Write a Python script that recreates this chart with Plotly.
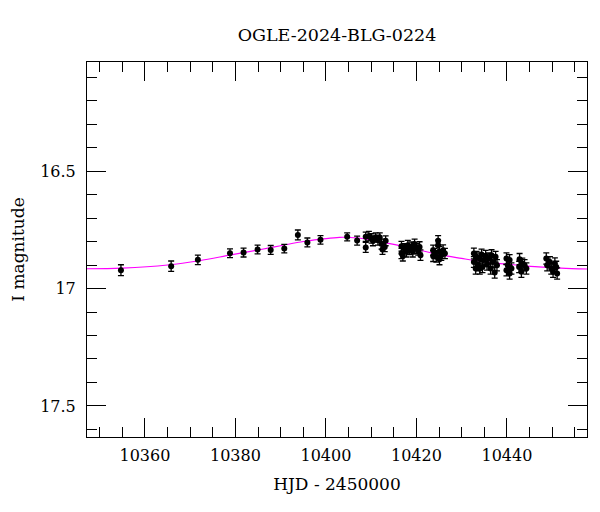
import plotly.graph_objects as go

# OGLE photometry (HJD - 2450000, I mag, error)
hjd = [10354.7, 10365.8, 10371.7, 10378.8, 10381.8, 10384.9, 10387.8, 10390.8,
       10393.8, 10395.9, 10398.8, 10404.7, 10406.9,
       10408.8, 10408.8, 10409.5, 10410.1, 10410.4, 10411.0, 10411.5, 10411.9,
       10412.3, 10412.5, 10413.0, 10413.2,
       10416.7, 10416.7, 10417.0, 10417.4, 10417.8, 10418.1, 10418.5, 10418.9,
       10419.2, 10419.6, 10420.0, 10420.4, 10420.7, 10420.9,
       10423.7, 10423.7, 10424.0, 10424.4, 10424.8, 10424.8, 10425.1, 10425.1,
       10425.5, 10425.9, 10426.3,
       10432.7, 10432.7, 10433.1, 10433.3, 10433.6, 10434.0, 10434.0, 10434.4,
       10434.6, 10434.9, 10435.3, 10435.6, 10436.0, 10436.4, 10436.6, 10436.9,
       10437.3, 10437.5, 10437.8,
       10439.9, 10439.9, 10440.2, 10440.6, 10440.6, 10441.0,
       10442.7, 10442.8, 10443.2, 10443.4, 10443.9, 10444.3,
       10448.7, 10448.9, 10449.5, 10449.8, 10450.2, 10450.6, 10450.9, 10451.1]
mag = [16.922, 16.905, 16.878, 16.850, 16.847, 16.834, 16.836, 16.830,
       16.772, 16.804, 16.793, 16.780, 16.796,
       16.780, 16.825, 16.777, 16.787, 16.797, 16.783, 16.794, 16.783,
       16.811, 16.834, 16.823, 16.797,
       16.820, 16.851, 16.862, 16.830, 16.844, 16.816, 16.834, 16.823,
       16.844, 16.811, 16.830, 16.837, 16.823, 16.858,
       16.837, 16.862, 16.851, 16.865, 16.797, 16.816, 16.844, 16.876,
       16.858, 16.837, 16.851,
       16.851, 16.887, 16.915, 16.865, 16.901, 16.872, 16.915, 16.855,
       16.908, 16.879, 16.861, 16.898, 16.872, 16.915, 16.858, 16.887,
       16.932, 16.865, 16.901,
       16.872, 16.922, 16.901, 16.879, 16.936, 16.915,
       16.908, 16.875, 16.929, 16.894, 16.901, 16.915,
       16.872, 16.901, 16.887, 16.915, 16.929, 16.894, 16.908, 16.936]
err = [0.023, 0.022, 0.020, 0.019, 0.019, 0.019, 0.019, 0.018,
       0.021, 0.019, 0.018, 0.017, 0.019,
       0.020, 0.021, 0.020, 0.020, 0.021, 0.020, 0.021, 0.020,
       0.021, 0.021, 0.020, 0.021,
       0.021, 0.022, 0.021, 0.021, 0.022, 0.021, 0.022, 0.021,
       0.022, 0.021, 0.022, 0.021, 0.022, 0.022,
       0.022, 0.023, 0.022, 0.023, 0.022, 0.022, 0.023, 0.023,
       0.022, 0.023, 0.022,
       0.023, 0.023, 0.024, 0.023, 0.024, 0.023, 0.024, 0.023,
       0.024, 0.023, 0.023, 0.024, 0.023, 0.024, 0.023, 0.024,
       0.024, 0.023, 0.024,
       0.024, 0.024, 0.024, 0.023, 0.024, 0.024,
       0.024, 0.024, 0.024, 0.023, 0.024, 0.024,
       0.024, 0.024, 0.023, 0.024, 0.024, 0.024, 0.024, 0.024]

# microlensing model curve
model_hjd = [10347.2, 10355, 10365, 10372, 10379, 10385, 10390, 10395, 10399,
             10403, 10407, 10411, 10415, 10420, 10425, 10430, 10436, 10442,
             10447, 10452, 10457.7]
model_mag = [16.916, 16.913, 16.900, 16.882, 16.857, 16.836, 16.818, 16.800, 16.790,
             16.782, 16.785, 16.797, 16.812, 16.833, 16.856, 16.872, 16.889, 16.900,
             16.908, 16.913, 16.917]

FONT = "DejaVu Serif"

fig = go.Figure()
fig.add_trace(go.Scatter(
    x=model_hjd, y=model_mag, mode="lines",
    line=dict(color="#ff00ff", width=1.2, shape="spline"),
    showlegend=False, hoverinfo="skip"
))
fig.add_trace(go.Scatter(
    x=hjd, y=mag, mode="markers",
    marker=dict(color="black", size=6),
    error_y=dict(type="data", array=err, color="black", thickness=1.3, width=3),
    showlegend=False
))

axis_common = dict(
    showline=True, linecolor="black", linewidth=1, mirror="ticks",
    ticks="inside", ticklen=19, tickwidth=1, tickcolor="black",
    showgrid=False, zeroline=False, automargin=False,
    tickfont=dict(family=FONT, size=16, color="black"),
)

fig.update_xaxes(
    range=[10347.2, 10457.7], dtick=20, tick0=10360, tickformat="d",
    minor=dict(dtick=5, ticklen=10, ticks="inside", tickcolor="black", showgrid=False),
    ticklabelstandoff=4,
    title=dict(text="HJD - 2450000", font=dict(family=FONT, size=17, color="black"), standoff=13),
    **axis_common
)
fig.update_yaxes(
    range=[17.632, 16.036], dtick=0.5, tick0=16.5,
    minor=dict(dtick=0.1, ticklen=10, ticks="inside", tickcolor="black", showgrid=False),
    ticklabelstandoff=7,
    title=dict(text="I magnitude", font=dict(family=FONT, size=17, color="black"), standoff=12),
    **axis_common
)

# page body adds an 8px offset, so margins are shifted to compensate
fig.update_layout(
    width=600, height=512,
    margin=dict(l=79, r=21, t=54, b=83),
    font=dict(family=FONT, color="black"),
    plot_bgcolor="white", paper_bgcolor="white",
    title=dict(text="OGLE-2024-BLG-0224", x=0.5, xref="paper",
               y=1 - 27 / 512, yref="container", yanchor="middle",
               font=dict(family=FONT, size=17.5, color="black")),
)

fig.write_html("out.html")
